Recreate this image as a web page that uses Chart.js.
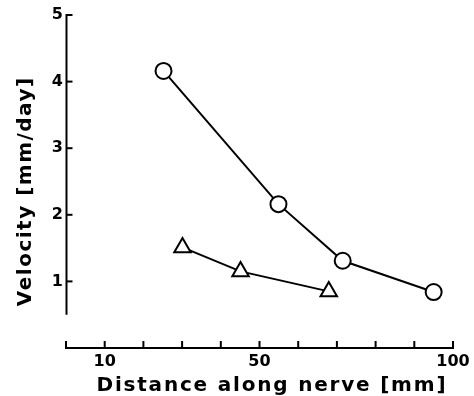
<!DOCTYPE html>
<html>
<head>
<meta charset="utf-8">
<script src="https://cdn.jsdelivr.net/npm/chart.js@4"></script>
<style>
html,body{margin:0;padding:0;background:#fff;}
canvas{display:block;}
</style>
</head>
<body>
<canvas id="c" width="474" height="396"></canvas>
<script>
// Data
const circleDistance = [25.2, 54.9, 71.5, 95.0];
const circleVelocity = [4.16, 2.16, 1.31, 0.84];
const triangleDistance = [30.1, 45.1, 67.9];
const triangleVelocity = [1.51, 1.15, 0.85];
const xTickLabels = [10, 50, 100];
const yTickLabels = [1, 2, 3, 4, 5];
const xTitle = 'Distance along nerve [mm]';
const yTitle = 'Velocity [mm/day]';

const FONT = "'DejaVu Sans', 'Liberation Sans', Arial, sans-serif";

const toPts = (xs, ys) => xs.map((x, i) => ({x: x, y: ys[i]}));

const axesPlugin = {
  id: 'axesPlugin',
  afterDraw(chart) {
    const ctx = chart.ctx;
    const xs = chart.scales.x, ys = chart.scales.y;
    const ca = chart.chartArea;
    ctx.save();
    ctx.strokeStyle = '#000';
    ctx.lineWidth = 2;
    ctx.lineCap = 'butt';
    // y axis line (from 5 down to 0.5)
    const yl = ca.left + 0.5;
    ctx.beginPath();
    ctx.moveTo(yl, ys.getPixelForValue(5) - 1);
    ctx.lineTo(yl, ys.getPixelForValue(0.5));
    ctx.stroke();
    // y ticks pointing inward
    yTickLabels.forEach(v => {
      const p = ys.getPixelForValue(v);
      ctx.beginPath();
      ctx.moveTo(yl, p);
      ctx.lineTo(yl + 6, p);
      ctx.stroke();
    });
    // x axis line
    const yb = ca.bottom;
    ctx.beginPath();
    ctx.moveTo(xs.getPixelForValue(0) - 1, yb);
    ctx.lineTo(xs.getPixelForValue(100) + 1, yb);
    ctx.stroke();
    // x ticks pointing upward, every 10
    xs.ticks.forEach(t => {
      const p = xs.getPixelForValue(t.value);
      ctx.beginPath();
      ctx.moveTo(p, yb);
      ctx.lineTo(p, yb - 7);
      ctx.stroke();
    });
    // axis titles
    ctx.fillStyle = '#000';
    ctx.textBaseline = 'alphabetic';
    ctx.textAlign = 'left';
    // x title
    ctx.font = 'bold 20px ' + FONT;
    ctx.letterSpacing = '1.8px';
    let w = ctx.measureText(xTitle).width - 1.8;
    ctx.fillText(xTitle, 271 - w / 2, 391);
    // y title
    ctx.font = 'bold 20px ' + FONT;
    ctx.letterSpacing = '1.5px';
    w = ctx.measureText(yTitle).width - 1.5;
    ctx.translate(31, 192);
    ctx.rotate(-Math.PI / 2);
    ctx.fillText(yTitle, -w / 2, 0);
    ctx.restore();
  }
};

new Chart(document.getElementById('c'), {
  type: 'scatter',
  data: {
    datasets: [
      {
        data: toPts(circleDistance, circleVelocity),
        showLine: true,
        borderColor: '#000',
        borderWidth: 2,
        pointStyle: 'circle',
        pointRadius: 8,
        pointBorderWidth: 2,
        pointBackgroundColor: '#fff',
        pointBorderColor: '#000',
        tension: 0
      },
      {
        data: toPts(triangleDistance, triangleVelocity),
        showLine: true,
        borderColor: '#000',
        borderWidth: 2,
        pointStyle: 'triangle',
        pointRadius: 9.5,
        pointBorderWidth: 2,
        pointBackgroundColor: '#fff',
        pointBorderColor: '#000',
        tension: 0
      }
    ]
  },
  options: {
    responsive: false,
    animation: false,
    events: [],
    layout: {padding: {left: 0, right: 21, top: 15, bottom: 0}},
    plugins: {legend: {display: false}, tooltip: {enabled: false}},
    scales: {
      x: {
        type: 'linear',
        min: 0, max: 100,
        grid: {display: false, drawTicks: false},
        border: {display: false},
        ticks: {
          stepSize: 10,
          autoSkip: false,
          maxRotation: 0,
          padding: 4,
          color: '#000',
          font: {family: FONT, weight: 'bold', size: 16},
          callback: v => xTickLabels.includes(v) ? String(v) : ''
        },
        afterFit: s => { s.height = 48; }
      },
      y: {
        type: 'linear',
        min: 0, max: 5,
        grid: {display: false, drawTicks: false},
        border: {display: false},
        ticks: {
          stepSize: 1,
          padding: 3,
          color: '#000',
          font: {family: FONT, weight: 'bold', size: 16},
          callback: v => yTickLabels.includes(v) ? String(v) : ''
        },
        afterFit: s => { s.width = 66; }
      }
    }
  },
  plugins: [axesPlugin]
});
</script>
</body>
</html>
